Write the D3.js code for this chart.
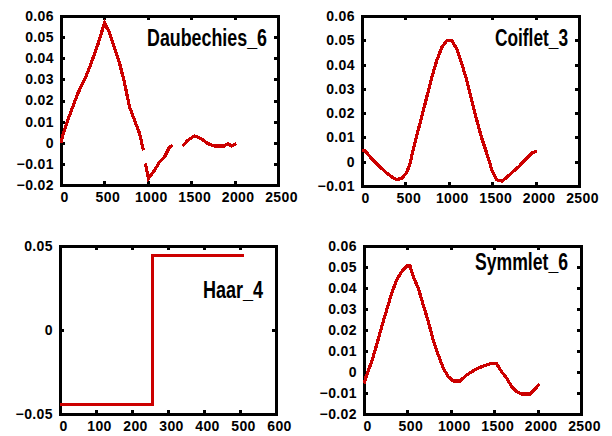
<!DOCTYPE html>
<html>
<head>
<meta charset="utf-8">
<script src="https://cdn.jsdelivr.net/npm/d3@7"></script>
<style>
  html, body { margin: 0; padding: 0; background: #fff; }
  svg { display: block; }
  .axis text { font-family: "Liberation Sans", Arial, sans-serif; font-weight: bold; font-size: 14px; letter-spacing: 0.4px; fill: #000; }
  .axis line { stroke: #000; stroke-width: 3; shape-rendering: crispEdges; }
  .axis path { display: none; }
  .title { font-family: "Liberation Sans Narrow", "Liberation Sans", Arial, sans-serif; font-weight: bold; font-size: 23px; fill: #000; }
</style>
</head>
<body>
<svg id="chart" width="612" height="436"></svg>
<script>
// Wavelet names shown in each panel
const titles = ["Daubechies_6", "Coiflet_3", "Haar_4", "Symmlet_6"];

// Daubechies_6 (null marks breaks in the trace)
const daubX = [0, 21, 78, 136, 194, 271, 348, 424, 501, 559, 616, 674, 732, 789, 847, 904, 950, 962, 973, 1008, 1077, 1135, 1192, 1250, 1288, 1345, 1403, 1461, 1538, 1615, 1692, 1768, 1884, 1922, 1961, 2018];
const daubY = [0, 0.0036, 0.0107, 0.017, 0.0234, 0.0298, 0.0377, 0.0464, 0.0567, 0.052, 0.045, 0.0378, 0.0283, 0.017, 0.0107, 0.0045, -0.0036, null, -0.0098, -0.0169, -0.0131, -0.0091, -0.0068, -0.002, -0.0012, null, -0.0015, 0.0012, 0.0032, 0.002, -0.0004, -0.0015, -0.0015, -0.0004, -0.0015, -0.0004];

// Coiflet_3
const coifX = [0, 35, 111, 188, 265, 342, 400, 458, 515, 554, 580, 631, 688, 746, 804, 861, 919, 977, 1035, 1092, 1150, 1208, 1265, 1323, 1381, 1438, 1496, 1554, 1611, 1669, 1727, 1803, 1880, 1957, 2015];
const coifY = [0.0045, 0.0045, 0.0013, -0.0014, -0.0041, -0.0062, -0.0074, -0.0068, -0.0045, -0.0007, 0.0034, 0.0109, 0.0184, 0.0266, 0.0348, 0.0416, 0.0471, 0.0498, 0.0498, 0.0464, 0.0403, 0.0334, 0.0252, 0.017, 0.0095, 0.0034, -0.0034, -0.0075, -0.008, -0.0064, -0.0045, -0.0021, 0.0007, 0.0036, 0.0045];

// Haar_4
const haarX = [0, 256, 256, 512];
const haarY = [-0.0442, -0.0442, 0.0442, 0.0442];

// Symmlet_6
const symX = [0, 31, 88, 146, 204, 261, 319, 376, 434, 492, 530, 568, 626, 683, 741, 798, 856, 914, 971, 1029, 1106, 1183, 1260, 1336, 1413, 1471, 1529, 1586, 1644, 1702, 1759, 1817, 1912, 1970, 2020];
const symY = [-0.0054, -0.0014, 0.0049, 0.0129, 0.0216, 0.0295, 0.0375, 0.0438, 0.0478, 0.0505, 0.0505, 0.0454, 0.0398, 0.0319, 0.024, 0.0152, 0.0081, 0.0017, -0.0022, -0.0043, -0.0043, -0.0014, 0.0006, 0.0022, 0.0033, 0.0041, 0.0038, 0.0001, -0.003, -0.007, -0.0094, -0.0105, -0.0105, -0.0082, -0.0057];

// Tick values
const xTicksLong = [0, 500, 1000, 1500, 2000, 2500];
const xTicksHaar = [0, 100, 200, 300, 400, 500, 600];
const yTicksA = [-0.02, -0.01, 0, 0.01, 0.02, 0.03, 0.04, 0.05, 0.06];
const yTicksB = [-0.01, 0, 0.01, 0.02, 0.03, 0.04, 0.05, 0.06];
const yTicksHaar = [-0.05, 0, 0.05];

const svg = d3.select("#chart");
const lineColor = "#cc0000";

function fmtY(v) {
  if (Math.abs(v) < 1e-12) return "0";
  return d3.format(".2f")(v);
}

function drawPanel(p) {
  const g = svg.append("g");
  const x = d3.scaleLinear().domain(p.xDomain).range([p.left, p.right]);
  const y = d3.scaleLinear().domain(p.yDomain).range([p.bottom, p.top]);

  // tick marks pointing inward on all four sides, labels on left and bottom
  g.append("g").attr("class", "axis")
    .attr("transform", `translate(${p.left},0)`)
    .call(d3.axisLeft(y).tickValues(p.yTicks).tickFormat(fmtY).tickSizeInner(-4).tickSizeOuter(0).tickPadding(7));
  g.append("g").attr("class", "axis")
    .attr("transform", `translate(${p.right},0)`)
    .call(d3.axisRight(y).tickValues(p.yTicks).tickFormat("").tickSizeInner(-4).tickSizeOuter(0));
  const bx = g.append("g").attr("class", "axis")
    .attr("transform", `translate(0,${p.bottom})`)
    .call(d3.axisBottom(x).tickValues(p.xTicks).tickFormat(d3.format("d")).tickSizeInner(-4).tickSizeOuter(0).tickPadding(p.xPad));
  bx.selectAll("text").attr("dx", 3);
  g.append("g").attr("class", "axis")
    .attr("transform", `translate(0,${p.top})`)
    .call(d3.axisTop(x).tickValues(p.xTicks).tickFormat("").tickSizeInner(-4).tickSizeOuter(0));

  // frame
  g.append("rect")
    .attr("x", p.left).attr("y", p.top)
    .attr("width", p.right - p.left).attr("height", p.bottom - p.top)
    .attr("fill", "none").attr("stroke", "#000").attr("stroke-width", 3)
    .attr("shape-rendering", "crispEdges");

  // wavelet trace
  const pts = p.xs.map((xv, i) => [xv, p.ys[i]]);
  const line = d3.line()
    .defined(d => d[1] !== null)
    .x(d => x(d[0]))
    .y(d => y(d[1]));
  g.append("path")
    .datum(pts)
    .attr("d", line)
    .attr("fill", "none")
    .attr("stroke", lineColor)
    .attr("stroke-width", 3.2)
    .attr("stroke-linejoin", "miter")
    .attr("shape-rendering", "crispEdges");

  // panel name
  g.append("text")
    .attr("class", "title")
    .attr("x", p.titleX).attr("y", p.titleY)
    .attr("text-anchor", "end")
    .attr("textLength", p.titleW)
    .attr("lengthAdjust", "spacingAndGlyphs")
    .text(p.title);
}

drawPanel({ title: titles[0], xs: daubX, ys: daubY, xDomain: [0, 2500], yDomain: [-0.02, 0.06],
  xTicks: xTicksLong, yTicks: yTicksA, left: 61, right: 278, top: 16, bottom: 185, xPad: 7,
  titleX: 267, titleY: 46, titleW: 120 });
drawPanel({ title: titles[1], xs: coifX, ys: coifY, xDomain: [0, 2500], yDomain: [-0.01, 0.06],
  xTicks: xTicksLong, yTicks: yTicksB, left: 362, right: 579, top: 16, bottom: 186, xPad: 7,
  titleX: 568, titleY: 46, titleW: 73 });
drawPanel({ title: titles[2], xs: haarX, ys: haarY, xDomain: [0, 600], yDomain: [-0.05, 0.05],
  xTicks: xTicksHaar, yTicks: yTicksHaar, left: 60, right: 276, top: 246, bottom: 414, xPad: 7,
  titleX: 263, titleY: 298, titleW: 60 });
drawPanel({ title: titles[3], xs: symX, ys: symY, xDomain: [0, 2500], yDomain: [-0.02, 0.06],
  xTicks: xTicksLong, yTicks: yTicksA, left: 364, right: 581, top: 246, bottom: 414, xPad: 7,
  titleX: 568, titleY: 270, titleW: 93 });
</script>
</body>
</html>
